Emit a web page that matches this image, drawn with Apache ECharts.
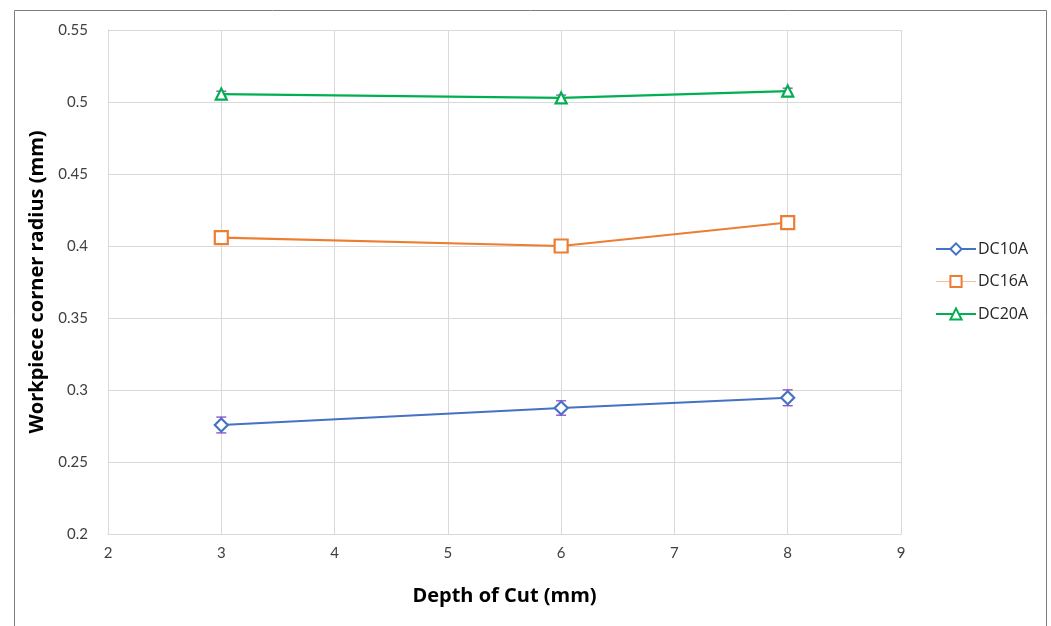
<!DOCTYPE html>
<html><head><meta charset="utf-8">
<script src="https://cdn.jsdelivr.net/npm/echarts@6/dist/echarts.min.js"></script>
<style>html,body{margin:0;padding:0;background:#fff}#c{width:1051px;height:626px}</style>
</head><body><div id="c"></div>
<script>
var depths = [3, 6, 8];
var dc10a = [0.2757, 0.2875, 0.2946];
var dc16a = [0.4058, 0.4000, 0.4163];
var dc20a = [0.5055, 0.5028, 0.5076];
var err10 = [0.0055, 0.005, 0.0055];
var err16 = [0.004, 0.004, 0.004];
var err20 = [0.002, 0.002, 0.002];
var names = ['DC10A', 'DC16A', 'DC20A'];
var colors = ['#4472C4', '#ED7D31', '#00B050'];
var errColor = '#8e44c8';

function pairs(vals){ return depths.map(function(d,i){ return [d, vals[i]]; }); }
function errData(vals, errs){ return depths.map(function(d,i){ return [d, vals[i]-errs[i], vals[i]+errs[i]]; }); }
function errSeries(vals, errs){
  return {
    type: 'custom', silent: true, z: 1,
    data: errData(vals, errs),
    renderItem: function(params, api){
      var lo = api.coord([api.value(0), api.value(1)]);
      var hi = api.coord([api.value(0), api.value(2)]);
      var w = 5;
      var st = {stroke: errColor, lineWidth: 1.3};
      return {type:'group', children:[
        {type:'line', shape:{x1:lo[0],y1:lo[1],x2:hi[0],y2:hi[1]}, style:st},
        {type:'line', shape:{x1:lo[0]-w,y1:lo[1],x2:lo[0]+w,y2:lo[1]}, style:st},
        {type:'line', shape:{x1:hi[0]-w,y1:hi[1],x2:hi[0]+w,y2:hi[1]}, style:st}
      ]};
    }
  };
}
function lineSeries(name, vals, color, symbol, size){
  return {
    name: name, type: 'line', data: pairs(vals), z: 3,
    symbol: symbol, symbolSize: size,
    itemStyle: {color: '#fff', borderColor: color, borderWidth: 2.2},
    lineStyle: {color: color, width: 2.2},
    emphasis: {disabled: true}
  };
}
var titleFont = '"Open Sans", "Liberation Sans", sans-serif';
var chart = echarts.init(document.getElementById('c'));
chart.setOption({
  animation: false,
  backgroundColor: '#fff',
  textStyle: {fontFamily: 'Lato, "Liberation Sans", sans-serif'},
  graphic: [{type:'rect', shape:{x:14.5, y:10.5, width:1032, height:640}, style:{fill:'none', stroke:'#7f7f7f', lineWidth:1}, silent:true}],
  grid: {left: 108, right: 150, top: 30, bottom: 92},
  legend: {
    orient: 'vertical', left: 930, top: 236, itemGap: 16.5, itemWidth: 40, itemHeight: 14,
    data: [
      {name: names[0]},
      {name: names[1], lineStyle: {width: 1, opacity: 0.5}},
      {name: names[2]}
    ],
    textStyle: {fontSize: 16, color: '#262626', fontFamily: titleFont, padding: [0,0,0,-3]}
  },
  xAxis: {
    type: 'value', min: 2, max: 9, interval: 1,
    name: 'Depth of Cut (mm)', nameLocation: 'middle', nameGap: 52,
    nameTextStyle: {fontSize: 20, fontWeight: 'bold', color: '#000', fontFamily: titleFont},
    axisLine: {show: true, lineStyle: {color: '#d9d9d9'}},
    axisTick: {show: false},
    axisLabel: {fontSize: 15, color: '#404040', margin: 12},
    splitLine: {show: true, lineStyle: {color: '#d9d9d9'}}
  },
  yAxis: {
    type: 'value', min: 0.2, max: 0.55, interval: 0.05,
    name: 'Workpiece corner radius (mm)', nameLocation: 'middle', nameGap: 60,
    nameTextStyle: {fontSize: 20, fontWeight: 'bold', color: '#000', fontFamily: titleFont},
    axisLine: {show: true, lineStyle: {color: '#d9d9d9'}},
    axisTick: {show: false},
    axisLabel: {fontSize: 15, color: '#404040', margin: 20},
    splitLine: {show: true, lineStyle: {color: '#d9d9d9'}}
  },
  series: [
    errSeries(dc10a, err10),
    errSeries(dc16a, err16),
    errSeries(dc20a, err20),
    lineSeries(names[0], dc10a, colors[0], 'diamond', 13),
    lineSeries(names[1], dc16a, colors[1], 'rect', 13),
    lineSeries(names[2], dc20a, colors[2], 'triangle', 11)
  ]
});
</script></body></html>
